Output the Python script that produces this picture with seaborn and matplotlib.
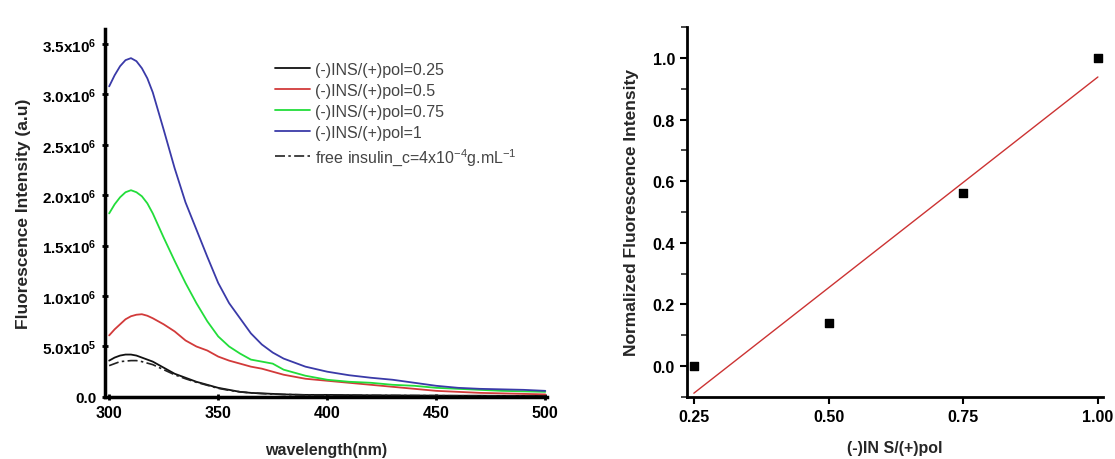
import numpy as np
import pandas as pd
import matplotlib
matplotlib.use("Agg")
import matplotlib.pyplot as plt
import seaborn as sns
from matplotlib.ticker import FuncFormatter, MultipleLocator

sns.set_theme(style="ticks")
plt.rcParams['font.family'] = ['Liberation Sans', 'DejaVu Sans']
plt.rcParams['mathtext.default'] = 'regular'

# ---- data: emission spectra (intensity in units of 1e6 a.u.) ----
wavelength = [300, 302.5, 305, 307.5, 310, 312.5, 315, 317.5, 320, 325, 330, 335, 340, 345, 350, 355,
              360, 365, 370, 375, 380, 390, 400, 410, 420, 430, 440, 450, 460, 470, 480, 490, 500]
ratio_025 = [0.36, 0.39, 0.41, 0.42, 0.42, 0.41, 0.39, 0.37, 0.35, 0.29, 0.23, 0.19, 0.15, 0.12, 0.09, 0.07,
             0.05, 0.04, 0.035, 0.03, 0.025, 0.02, 0.02, 0.018, 0.016, 0.015, 0.014, 0.013, 0.012, 0.012, 0.011, 0.01, 0.01]
ratio_05 = [0.61, 0.67, 0.72, 0.77, 0.80, 0.815, 0.82, 0.805, 0.78, 0.72, 0.65, 0.56, 0.50, 0.46, 0.40, 0.36,
            0.33, 0.30, 0.28, 0.25, 0.22, 0.18, 0.16, 0.14, 0.12, 0.10, 0.08, 0.06, 0.05, 0.04, 0.035, 0.03, 0.025]
ratio_075 = [1.82, 1.91, 1.98, 2.03, 2.05, 2.03, 1.99, 1.92, 1.82, 1.58, 1.35, 1.13, 0.93, 0.75, 0.60, 0.50,
             0.43, 0.37, 0.35, 0.33, 0.27, 0.21, 0.17, 0.15, 0.14, 0.12, 0.11, 0.09, 0.08, 0.07, 0.06, 0.055, 0.05]
ratio_1 = [3.08, 3.19, 3.28, 3.34, 3.36, 3.33, 3.26, 3.16, 3.02, 2.65, 2.27, 1.93, 1.66, 1.39, 1.13, 0.93,
           0.78, 0.63, 0.52, 0.44, 0.38, 0.30, 0.25, 0.215, 0.19, 0.17, 0.14, 0.11, 0.09, 0.08, 0.075, 0.07, 0.06]
free_insulin = [0.31, 0.33, 0.35, 0.355, 0.36, 0.36, 0.35, 0.335, 0.32, 0.27, 0.22, 0.18, 0.145, 0.115, 0.085, 0.065,
                0.05, 0.04, 0.033, 0.028, 0.024, 0.02, 0.018, 0.016, 0.015, 0.014, 0.013, 0.012, 0.011, 0.011, 0.01, 0.01, 0.01]

series_labels = ["(-)INS/(+)pol=0.25", "(-)INS/(+)pol=0.5", "(-)INS/(+)pol=0.75", "(-)INS/(+)pol=1"]
series_colors = ["#111111", "#d23a3a", "#22dd3a", "#3a3aa8"]
free_label = "free insulin_c=4x10$^{-4}$g.mL$^{-1}$"

# ---- data: normalized intensity vs ratio ----
ratio_x = [0.25, 0.50, 0.75, 1.00]
norm_y = [0.0, 0.14, 0.56, 1.0]

fig = plt.figure(figsize=(11.15, 4.6), dpi=100)
ax1 = fig.add_axes([0.094, 0.135, 0.397, 0.80])
ax2 = fig.add_axes([0.616, 0.135, 0.373, 0.804])

# ---------- left panel ----------
rows = []
for lab, vals in zip(series_labels, [ratio_025, ratio_05, ratio_075, ratio_1]):
    for w, v in zip(wavelength, vals):
        rows.append({"wavelength": w, "intensity": v * 1e6, "series": lab})
df = pd.DataFrame(rows)
sns.lineplot(data=df, x="wavelength", y="intensity", hue="series",
             palette=dict(zip(series_labels, series_colors)), linewidth=1.3, ax=ax1)
sns.lineplot(x=wavelength, y=np.array(free_insulin) * 1e6, color="#222222",
             linestyle=(0, (6, 2, 1.5, 2)), linewidth=1.2, ax=ax1, label=free_label)

ax1.set_xlim(298, 501)
ax1.set_ylim(0, 3.65e6)
ax1.xaxis.set_major_locator(MultipleLocator(50))
ax1.yaxis.set_major_locator(MultipleLocator(0.5e6))

def sci_fmt(v, pos):
    if abs(v) < 1:
        return "0.0"
    exp = int(np.floor(np.log10(abs(v)) + 1e-9))
    mant = v / 10 ** exp
    return "%.1fx10$^{%d}$" % (mant, exp)

ax1.yaxis.set_major_formatter(FuncFormatter(sci_fmt))
ax1.set_xlabel("wavelength(nm)", fontsize=11.5, fontweight="bold", labelpad=16)
ax1.set_ylabel("Fluorescence Intensity (a.u)", fontsize=12.5, fontweight="bold", labelpad=8)
for lab in ax1.get_xticklabels() + ax1.get_yticklabels():
    lab.set_fontweight("bold")
ax1.tick_params(axis="both", labelsize=11.5, width=2, length=5, direction="inout", colors="black")
ax1.tick_params(axis="y", labelsize=11)
for s in ["top", "right"]:
    ax1.spines[s].set_visible(False)
for s in ["left", "bottom"]:
    ax1.spines[s].set_linewidth(2.5)
    ax1.spines[s].set_color("black")

leg = ax1.legend(loc="upper left", bbox_to_anchor=(0.352, 0.95), frameon=False,
                 fontsize=11.5, handlelength=2.2, handletextpad=0.3, labelspacing=0.38)
for t in leg.get_texts():
    t.set_color("#444444")

# ---------- right panel ----------
sns.regplot(x=ratio_x, y=norm_y, ci=None, ax=ax2, marker="s",
            scatter_kws={"color": "black", "s": 40, "alpha": 1, "zorder": 3, "clip_on": False},
            line_kws={"color": "#cc3333", "linewidth": 1.0})
ax2.set_xlim(0.237, 1.009)
ax2.set_ylim(-0.1, 1.1)
ax2.xaxis.set_major_locator(MultipleLocator(0.25))
ax2.yaxis.set_major_locator(MultipleLocator(0.2))
ax2.yaxis.set_minor_locator(MultipleLocator(0.1))
ax2.xaxis.set_major_formatter(FuncFormatter(lambda v, p: "%.2f" % v))
ax2.yaxis.set_major_formatter(FuncFormatter(lambda v, p: "%.1f" % v))
ax2.set_xlabel("(-)IN S/(+)pol", fontsize=11.5, fontweight="bold", labelpad=12)
ax2.set_ylabel("Normalized Fluorescence Intensity", fontsize=12.5, fontweight="bold", labelpad=10)
for lab in ax2.get_xticklabels() + ax2.get_yticklabels():
    lab.set_fontweight("bold")
ax2.tick_params(axis="both", which="major", labelsize=11.5, width=1.5, length=5, colors="black")
ax2.tick_params(axis="y", which="minor", width=1.2, length=4, left=True)
for s in ["top", "right"]:
    ax2.spines[s].set_visible(False)
for s in ["left", "bottom"]:
    ax2.spines[s].set_linewidth(2)
    ax2.spines[s].set_color("black")

fig.savefig("out.png", dpi=100, facecolor="white")
